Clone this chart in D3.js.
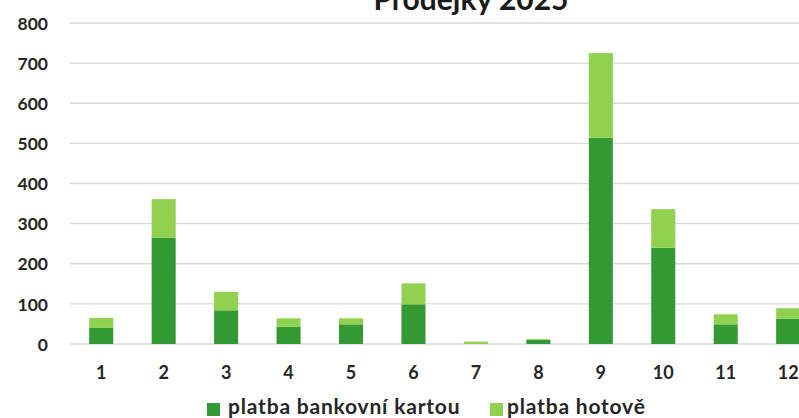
<!DOCTYPE html>
<html><head><meta charset="utf-8">
<script src="https://cdn.jsdelivr.net/npm/d3@7"></script>
<style>body{margin:0;background:#fff;overflow:hidden}svg{display:block}</style>
</head><body>
<svg id="c" width="799" height="418"></svg>
<script>
const title = "Prodejky 2025";
const categories = ["1","2","3","4","5","6","7","8","9","10","11","12"];
const cardValues = [40, 265, 84, 43, 49, 99, 0, 10, 514, 240, 49, 63];
const cashValues = [25, 96, 46, 21, 15, 52, 6, 2, 211, 96, 25, 26];
const seriesNames = ["platba bankovní kartou", "platba hotově"];
const seriesColors = ["#339933", "#92d050"];
const yTicks = [0,100,200,300,400,500,600,700,800];

const svg = d3.select("#c");
const font = "Lato, 'Open Sans', sans-serif";
const x = d3.scaleBand().domain(categories).range([70, 70 + 12*62.45]).paddingInner(0.615).paddingOuter(0.3075);
const y = d3.scaleLinear().domain([0, 800]).range([344, 23]);

// gridlines
svg.append("g").selectAll("line").data(yTicks).join("line")
  .attr("x1", 70).attr("x2", 830)
  .attr("y1", d => y(d)).attr("y2", d => y(d))
  .attr("stroke", "#d9d9d9").attr("stroke-width", 1.3);

// y axis labels
const yAxis = d3.axisLeft(y).tickValues(yTicks).tickSize(0).tickPadding(0);
const gy = svg.append("g").attr("transform", "translate(48,0)").call(yAxis);
gy.select(".domain").remove();
gy.selectAll("text").attr("font-family", font).attr("font-weight", "bold")
  .attr("font-size", 17.5).attr("fill", "#262626").attr("dy", "0.35em");

// stacked data
const rows = categories.map((c, i) => ({cat: c, card: cardValues[i], cash: cashValues[i]}));
const stack = d3.stack().keys(["card", "cash"])(rows);
svg.append("g").selectAll("g").data(stack).join("g")
  .attr("fill", (d, i) => seriesColors[i])
  .selectAll("rect").data(d => d).join("rect")
  .attr("x", d => x(d.data.cat))
  .attr("width", x.bandwidth())
  .attr("y", d => y(d[1]))
  .attr("height", d => Math.max(0, y(d[0]) - y(d[1])));

// x axis labels
const xAxis = d3.axisBottom(x).tickSize(0).tickPadding(0);
const gx = svg.append("g").attr("transform", "translate(0,373)").call(xAxis);
gx.select(".domain").remove();
gx.selectAll("text").attr("font-family", font).attr("font-weight", "bold")
  .attr("font-size", 18).attr("fill", "#262626").attr("dy", "0.35em");

// title
svg.append("text").attr("x", 471).attr("y", 10).attr("text-anchor", "middle")
  .attr("font-family", font).attr("font-weight", "bold").attr("font-size", 30)
  .attr("fill", "#1a1a1a").text(title);

// legend
const legendX = [207, 490];
const legendTextX = [228, 507];
const lg = svg.append("g");
seriesNames.forEach((n, i) => {
  lg.append("rect").attr("x", legendX[i]).attr("y", 403).attr("width", 13).attr("height", 13).attr("fill", seriesColors[i]);
  lg.append("text").attr("x", legendTextX[i]).attr("y", 414)
    .attr("font-family", font).attr("font-weight", "bold").attr("font-size", 21)
    .attr("letter-spacing", 0.8)
    .attr("fill", "#262626").text(n);
});
</script>
</body></html>
